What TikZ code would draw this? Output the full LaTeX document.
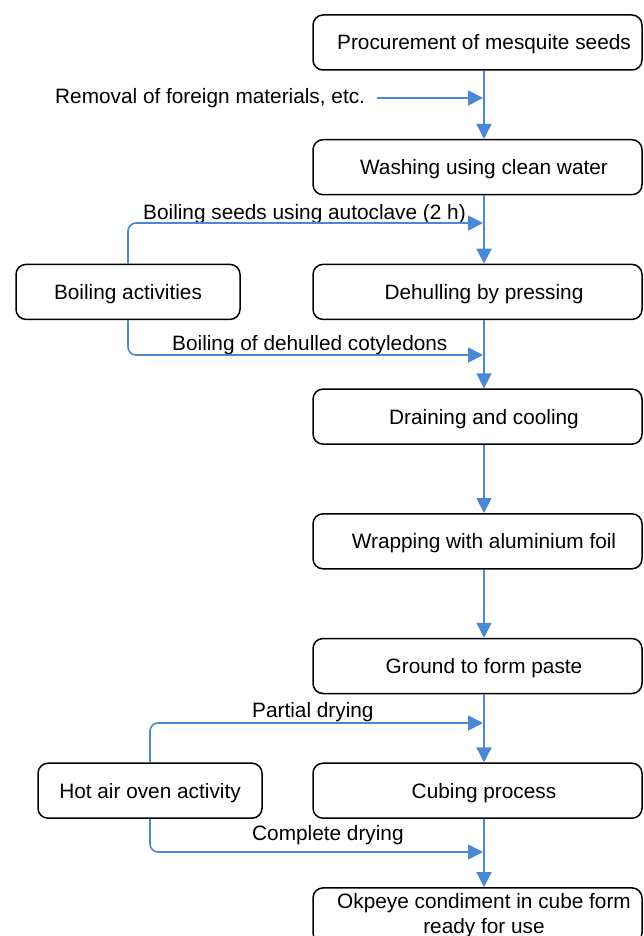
\documentclass[tikz,border=0pt]{standalone}
\usepackage{fontspec}
\setmainfont{Liberation Sans}
\usetikzlibrary{arrows.meta}
\definecolor{flowblue}{RGB}{74,136,214}
\newcommand{\shft}{\hspace*{13pt}}
\begin{document}
\begin{tikzpicture}[x=1pt,y=-1pt,
  every node/.style={font=\fontsize{20.8}{25}\selectfont},
  boxbase/.style={draw=black, line width=1.5pt, rounded corners=10pt,
    minimum height=55pt, inner sep=0pt, align=center},
  oneline/.style={text height=19.8pt, text depth=5pt},
  mainbox/.style={boxbase, minimum width=329pt},
  sidebox/.style={boxbase, oneline, minimum width=224pt},
  lbl/.style={inner sep=0pt},
  flow/.style={draw=flowblue, line width=1.6pt,
    -{Triangle[length=15pt,width=15pt]}},
  side/.style={flow, rounded corners=8pt}]
\useasboundingbox (0,0) rectangle (644,936);
% main column
\node[mainbox, oneline] (b1) at (477.5,42.5) {\shft Procurement of mesquite seeds};
\node[mainbox, oneline] (b2) at (477.5,167.2) {\shft Washing using clean water};
\node[mainbox, oneline] (b3) at (477.5,291.9) {\shft Dehulling by pressing};
\node[mainbox, oneline] (b4) at (477.5,416.6) {\shft Draining and cooling};
\node[mainbox, oneline] (b5) at (477.5,541.3) {\shft Wrapping with aluminium foil};
\node[mainbox, oneline] (b6) at (477.5,666) {\shft Ground to form paste};
\node[mainbox, oneline] (b7) at (477.5,790.7) {\shft Cubing process};
\node[mainbox] (b8) at (477.5,915.4) {\shft Okpeye condiment in cube form\\\shft ready for use};
% side boxes
\node[sidebox] (boil) at (128,291.9) {Boiling activities};
\node[sidebox] (oven) at (150,790.7) {Hot air oven activity};
% axis of the main arrows
\coordinate (ax) at (484,0);
\foreach \a/\b in {b1/b2,b2/b3,b3/b4,b4/b5,b5/b6,b6/b7,b7/b8}
  \draw[flow] (\a.south -| ax) -- (\b.north -| ax);
% junction points on the main line
\coordinate (j1) at (483,98);
\coordinate (j2) at (483,223);
\coordinate (j3) at (483,355);
\coordinate (j4) at (483,723);
\coordinate (j5) at (483,852);
% labels
\node[lbl, anchor=base west] (l1) at (55,104) {Removal of foreign materials, etc.};
\node[lbl, anchor=base west] (l2) at (143,219) {Boiling seeds using autoclave (2 h)};
\node[lbl, anchor=base west] (l3) at (172,350) {Boiling of dehulled cotyledons};
\node[lbl, anchor=base west] (l4) at (252,717) {Partial drying};
\node[lbl, anchor=base west] (l5) at (252,840) {Complete drying};
% side connectors
\draw[flow] ([xshift=12pt]l1.east |- j1) -- (j1);
\draw[side] (boil.north) |- (j2);
\draw[side] (boil.south) |- (j3);
\draw[side] (oven.north) |- (j4);
\draw[side] (oven.south) |- (j5);
\end{tikzpicture}
\end{document}
